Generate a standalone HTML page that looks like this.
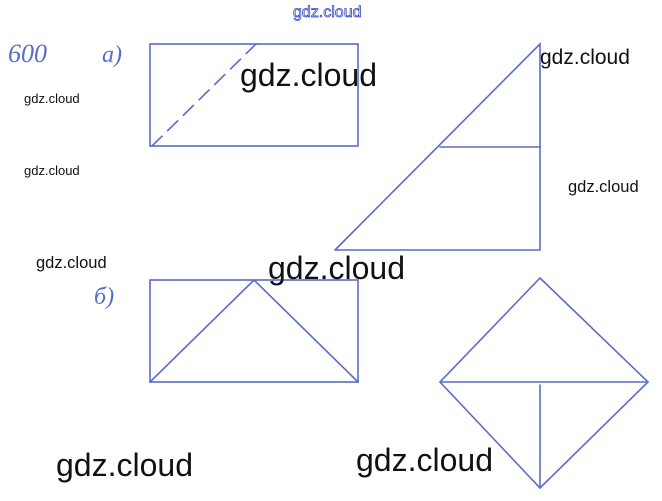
<!DOCTYPE html>
<html><head><meta charset="utf-8"><style>
html,body{margin:0;padding:0;background:#fff;}
body{width:662px;height:501px;position:relative;overflow:hidden;}
svg{position:absolute;left:0;top:0;}
.t{position:absolute;font-family:"Liberation Sans",sans-serif;color:#111;white-space:nowrap;line-height:1;}
.b{font-size:32px;font-weight:500;}
</style></head><body>
<svg width="662" height="501" viewBox="0 0 662 501">
<g stroke="#5a6cc8" stroke-width="1.6" fill="none" stroke-linecap="round">
<rect x="150" y="44" width="208" height="102"/>
<line x1="152" y1="146" x2="258" y2="42" stroke-dasharray="14,8"/>
<polyline points="335,250 540,44 540,250 335,250"/>
<line x1="440" y1="147" x2="540" y2="147"/>
<rect x="150" y="280" width="208" height="102"/>
<polyline points="150,382 254,280 358,382"/>
<polygon points="540,278 648,382 540,488 440,382"/>
<line x1="440" y1="382" x2="648" y2="382"/>
<line x1="540" y1="385" x2="540" y2="488"/>
</g>
<text x="8" y="62" font-family="Liberation Serif" font-style="italic" font-size="26" fill="#5a6cc8">600</text>
<text x="102" y="62" font-family="Liberation Serif" font-style="italic" font-size="24" fill="#5a6cc8">a)</text>
<text x="94" y="304" font-family="Liberation Serif" font-style="italic" font-size="24" fill="#5a6cc8">б)</text>
<text x="293" y="17" font-family="Liberation Sans" font-size="16" fill="#fff" stroke="#3a4ac0" stroke-width="0.8">gdz.cloud</text>
</svg>
<div class="t b" style="left:240px;top:59px;">gdz.cloud</div>
<div class="t" style="left:540px;top:47px;font-size:21px;">gdz.cloud</div>
<div class="t" style="left:24px;top:92px;font-size:13px;">gdz.cloud</div>
<div class="t" style="left:24px;top:164px;font-size:13px;">gdz.cloud</div>
<div class="t" style="left:568px;top:179px;font-size:16.5px;">gdz.cloud</div>
<div class="t" style="left:36px;top:255px;font-size:16.5px;">gdz.cloud</div>
<div class="t b" style="left:268px;top:252px;">gdz.cloud</div>
<div class="t b" style="left:56px;top:449px;">gdz.cloud</div>
<div class="t b" style="left:356px;top:444px;">gdz.cloud</div>
</body></html>
